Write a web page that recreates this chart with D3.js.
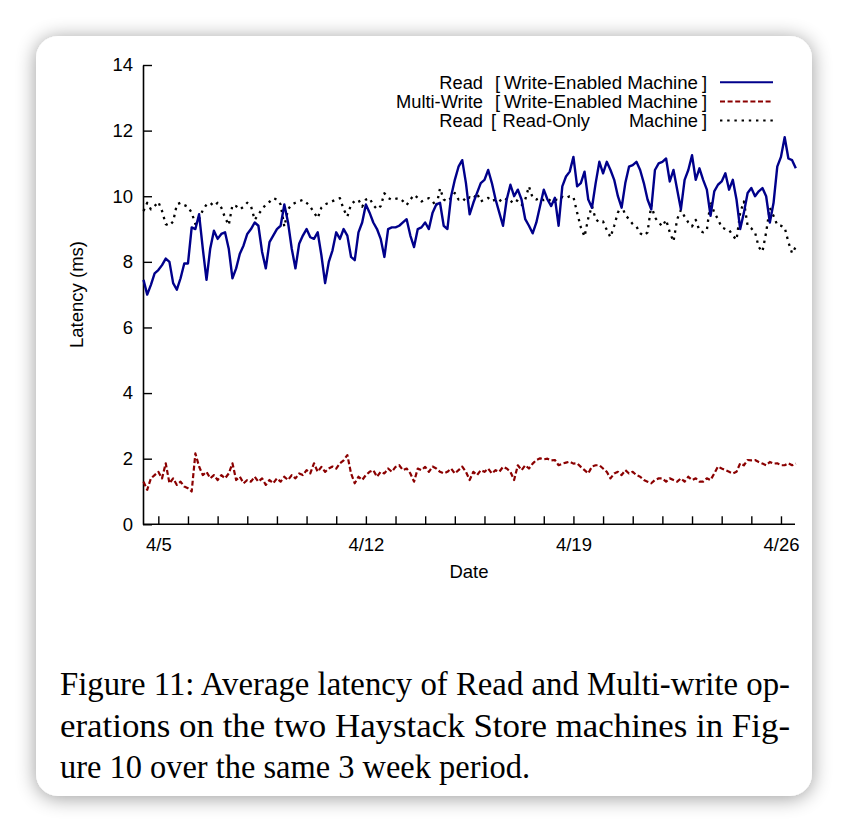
<!DOCTYPE html>
<html>
<head>
<meta charset="utf-8">
<script src="https://cdn.jsdelivr.net/npm/d3@7"></script>
<style>
  html, body { margin: 0; padding: 0; background: #ffffff; }
  svg { display: block; }
</style>
</head>
<body>
<svg id="chart" width="848" height="832"></svg>
<script>
// ---- Data (samples every 3 hours starting 4/4 12:00) ----
const sampleStartISO = "2010-04-04T12:00:00";
const sampleStepHours = 3;

const readWriteEnabled = [
  7.45, 7.0, 7.3, 7.65, 7.75, 7.9, 8.1, 8.0, 7.35, 7.15,
  7.5, 7.95, 7.95, 9.05, 9.0, 9.45, 8.4, 7.45, 8.4, 8.95,
  8.7, 8.85, 8.9, 8.4, 7.5, 7.8, 8.25, 8.5, 8.85, 9.0,
  9.2, 9.1, 8.3, 7.8, 8.6, 8.8, 9.0, 9.1, 9.75, 9.2,
  8.4, 7.8, 8.55, 8.8, 9.0, 8.75, 8.7, 8.9, 8.2, 7.35,
  8.0, 8.35, 8.9, 8.7, 9.0, 8.8, 8.15, 8.05, 8.9, 9.2,
  9.75, 9.5, 9.2, 9.0, 8.7, 8.15, 9.0, 9.05, 9.05, 9.1,
  9.2, 9.3, 8.8, 8.45, 9.0, 9.05, 9.2, 9.0, 9.5, 9.75,
  9.8, 9.1, 9.0, 10.0, 10.5, 10.9, 11.1, 10.4, 9.45, 9.8,
  10.1, 10.4, 10.5, 10.8, 10.4, 9.9, 9.5, 9.1, 9.9, 10.35,
  10.0, 10.2, 9.9, 9.3, 9.1, 8.87, 9.2, 9.7, 10.2, 9.9,
  9.7, 9.95, 9.1, 10.3, 10.6, 10.75, 11.2, 10.3, 10.4, 10.75,
  9.9, 9.65, 10.4, 11.05, 10.7, 11.05, 10.8, 10.5, 10.0, 9.65,
  10.4, 10.9, 10.95, 11.05, 10.8, 10.4, 9.9, 9.6, 10.8, 11.0,
  11.05, 11.15, 10.45, 10.8, 10.2, 9.6, 10.5, 10.8, 11.25, 10.5,
  10.85, 10.5, 10.2, 9.4, 10.15, 10.35, 10.45, 10.7, 10.2, 10.5,
  9.9, 9.0, 9.5, 10.1, 10.25, 10.0, 10.15, 10.25, 10.0, 9.2,
  9.8, 10.9, 11.2, 11.8, 11.15, 11.1, 10.85
];

const multiWriteWriteEnabled = [
  1.3, 1.05, 1.4, 1.5, 1.6, 1.4, 1.86, 1.25, 1.4, 1.2,
  1.3, 1.15, 1.1, 1.0, 2.16, 1.76, 1.5, 1.6, 1.4, 1.5,
  1.35, 1.5, 1.4, 1.55, 1.86, 1.35, 1.45, 1.25, 1.35, 1.3,
  1.45, 1.3, 1.4, 1.2, 1.35, 1.25, 1.4, 1.3, 1.45, 1.35,
  1.5, 1.4, 1.55, 1.5, 1.65, 1.55, 1.86, 1.6, 1.75, 1.6,
  1.7, 1.76, 1.7, 1.86, 1.95, 2.11, 1.55, 1.25, 1.45, 1.35,
  1.5, 1.6, 1.65, 1.45, 1.6, 1.55, 1.7, 1.6, 1.75, 1.8,
  1.65, 1.7, 1.55, 1.3, 1.7, 1.65, 1.75, 1.6, 1.76, 1.7,
  1.6, 1.55, 1.6, 1.7, 1.55, 1.65, 1.76, 1.6, 1.35, 1.6,
  1.5, 1.65, 1.6, 1.7, 1.55, 1.65, 1.6, 1.75, 1.7, 1.6,
  1.35, 1.8, 1.65, 1.8, 1.7, 1.85, 1.96, 2.01, 1.98, 2.0,
  1.95, 1.96, 1.8, 1.85, 1.88, 1.91, 1.85, 1.86, 1.75, 1.65,
  1.55, 1.76, 1.8, 1.8, 1.7, 1.6, 1.4, 1.55, 1.6, 1.5,
  1.65, 1.55, 1.6, 1.5, 1.45, 1.35, 1.3, 1.25, 1.35, 1.4,
  1.4, 1.3, 1.4, 1.35, 1.3, 1.4, 1.3, 1.45, 1.35, 1.4,
  1.3, 1.3, 1.4, 1.35, 1.55, 1.76, 1.7, 1.65, 1.6, 1.55,
  1.6, 1.86, 1.8, 1.96, 1.95, 1.96, 1.9, 1.85, 1.8, 1.9,
  1.85, 1.86, 1.8, 1.8, 1.86, 1.8, 1.85
];

const readReadOnly = [
  9.55, 9.8, 9.6, 9.7, 9.83, 9.55, 9.15, 9.1, 9.23, 9.75,
  9.8, 9.73, 9.68, 9.5, 9.15, 9.3, 9.58, 9.75, 9.8, 9.7,
  9.8, 9.65, 9.35, 9.12, 9.73, 9.7, 9.6, 9.68, 9.8, 9.7,
  9.28, 9.45, 9.6, 9.75, 9.83, 9.94, 9.9, 9.75, 9.07, 9.6,
  9.75, 9.8, 9.85, 9.89, 9.8, 9.68, 9.5, 9.33, 9.65, 9.75,
  9.8, 9.85, 9.9, 9.94, 9.6, 9.38, 9.75, 9.85, 9.89, 9.68,
  9.9, 9.94, 9.73, 9.6, 9.7, 10.09, 9.95, 9.89, 9.92, 9.94,
  9.85, 9.73, 9.9, 10.04, 9.95, 9.84, 9.9, 9.94, 9.85, 9.68,
  10.24, 9.9, 9.84, 9.95, 10.1, 9.9, 9.95, 9.85, 9.97, 9.92,
  10.09, 9.84, 9.9, 9.95, 9.85, 9.9, 9.84, 9.95, 9.9, 9.8,
  9.92, 9.85, 9.73, 9.9, 10.3, 9.95, 9.9, 9.95, 9.88, 9.92,
  9.85, 9.9, 9.88, 9.98, 9.94, 10.0, 9.98, 9.5, 9.05, 8.77,
  9.33, 9.7, 9.3, 9.2, 9.23, 8.97, 8.75, 9.1, 9.5, 9.73,
  9.43, 9.3, 9.15, 9.08, 8.87, 8.8, 8.9, 9.73, 9.35, 9.2,
  9.08, 9.28, 8.9, 8.62, 9.3, 9.58, 9.38, 9.2, 9.08, 9.28,
  8.95, 8.9, 8.97, 9.84, 9.5, 9.3, 9.05, 9.0, 8.97, 8.8,
  8.67, 9.5, 9.84, 9.1, 9.02, 8.9, 8.45, 8.31, 8.9, 9.65,
  9.4, 9.12, 9.1, 9.05, 8.6, 8.26, 8.46
];

const yTickValues = [0, 2, 4, 6, 8, 10, 12, 14];
const xLabelDates = ["2010-04-05", "2010-04-12", "2010-04-19", "2010-04-26"];
const xTickLabels = ["4/5", "4/12", "4/19", "4/26"];

const legendLabels = ["Read", "Multi-Write", "Read"];
const legendMachines = ["Write-Enabled Machine", "Write-Enabled Machine", "Read-Only"];
const legendColors = ["#00008b", "#8b0000", "#000000"];
const legendDash = [null, "5,2.6", "2.4,4.8"];

const captionLines = [
  "Figure 11: Average latency of Read and Multi-write op-",
  "erations on the two Haystack Store machines in Fig-",
  "ure 10 over the same 3 week period."
];

// ---- Drawing ----
const svg = d3.select("#chart");
const defs = svg.append("defs");
const f = defs.append("filter").attr("id", "shadow")
  .attr("x", "-10%").attr("y", "-10%").attr("width", "120%").attr("height", "120%");
f.append("feGaussianBlur").attr("in", "SourceAlpha").attr("stdDeviation", 10).attr("result", "b");
f.append("feOffset").attr("in", "b").attr("dx", 0).attr("dy", 2).attr("result", "o");
f.append("feComponentTransfer").attr("in", "o").attr("result", "s")
  .append("feFuncA").attr("type", "linear").attr("slope", 0.4);
const m = f.append("feMerge");
m.append("feMergeNode").attr("in", "s");
m.append("feMergeNode").attr("in", "SourceGraphic");

svg.append("rect").attr("x", 36).attr("y", 36).attr("width", 776).attr("height", 760)
  .attr("rx", 22).attr("ry", 22).attr("fill", "#ffffff").attr("filter", "url(#shadow)");

const start = new Date(sampleStartISO);
const times = readWriteEnabled.map((_, i) => new Date(start.getTime() + i * sampleStepHours * 3600e3));

const x = d3.scaleTime()
  .domain([new Date("2010-04-04T12:00:00"), new Date("2010-04-26T12:00:00")])
  .range([143.5, 795.8]);
const y = d3.scaleLinear().domain([0, 14]).range([524.3, 65]);

const sansFont = "'Liberation Sans', Arial, Helvetica, sans-serif";

// Axes
const yAxis = d3.axisLeft(y).tickValues(yTickValues).tickSizeInner(-9).tickSizeOuter(0).tickPadding(10);
const gy = svg.append("g").attr("transform", "translate(143,0)").call(yAxis);
const xAxis = d3.axisBottom(x)
  .ticks(d3.timeDay.every(1))
  .tickSizeInner(-8).tickSizeOuter(0).tickPadding(14)
  .tickFormat(d => {
    const idx = xLabelDates.findIndex(s => +new Date(s + "T00:00:00") === +d);
    return idx >= 0 ? xTickLabels[idx] : "";
  });
const gx = svg.append("g").attr("transform", "translate(0,524.3)").call(xAxis);

[gx, gy].forEach(g => {
  g.select(".domain").attr("stroke", "#000").attr("stroke-width", 1.6);
  g.selectAll(".tick line").attr("stroke", "#000").attr("stroke-width", 1.4);
  g.selectAll("text").attr("font-family", sansFont).attr("font-size", 18.5).attr("fill", "#000");
});
gx.select(".domain").attr("d", "M143,0H795");

svg.append("text").attr("x", 469).attr("y", 578).attr("text-anchor", "middle")
  .attr("font-family", sansFont).attr("font-size", 18.5).text("Date");
svg.append("text").attr("transform", "translate(83,294.5) rotate(-90)").attr("text-anchor", "middle")
  .attr("font-family", sansFont).attr("font-size", 18.5).text("Latency (ms)");

// Lines
const line = d3.line().x((d, i) => x(times[i])).y(d => y(d));
const seriesList = [
  { data: readReadOnly, color: legendColors[2], dash: legendDash[2], w: 2.3 },
  { data: multiWriteWriteEnabled, color: legendColors[1], dash: legendDash[1], w: 2.2 },
  { data: readWriteEnabled, color: legendColors[0], dash: legendDash[0], w: 2.4 }
];
seriesList.forEach(s => {
  svg.append("path").datum(s.data).attr("d", line)
    .attr("fill", "none").attr("stroke", s.color).attr("stroke-width", s.w)
    .attr("stroke-linejoin", "round")
    .attr("stroke-dasharray", s.dash);
});

// Legend
const rowY = [82.3, 101.5, 120.5];
legendLabels.forEach((lab, i) => {
  const cy = rowY[i];
  const by = cy + 6.6;
  const g = svg.append("g").attr("font-family", sansFont).attr("font-size", 18.3);
  g.append("text").attr("x", 483).attr("y", by).attr("text-anchor", "end").text(lab);
  g.append("text").attr("x", i === 2 ? 491 : 495).attr("y", by).text("[");
  if (i < 2) {
    g.append("text").attr("x", 504).attr("y", by).text(legendMachines[i])
      .attr("textLength", 194).attr("lengthAdjust", "spacingAndGlyphs");
  } else {
    g.append("text").attr("x", 502.5).attr("y", by).text(legendMachines[i]);
    g.append("text").attr("x", 698).attr("y", by).attr("text-anchor", "end").text("Machine");
  }
  g.append("text").attr("x", 702).attr("y", by).text("]");
  svg.append("line").attr("x1", 720).attr("x2", 773).attr("y1", cy).attr("y2", cy)
    .attr("stroke", legendColors[i]).attr("stroke-width", 2)
    .attr("stroke-dasharray", legendDash[i]);
});

// Caption
const capY = [695, 737, 778];
captionLines.forEach((t, i) => {
  const txt = svg.append("text").attr("x", 60).attr("y", capY[i])
    .attr("font-family", "'Liberation Serif', 'Times New Roman', Times, serif")
    .attr("font-size", 33).attr("fill", "#000").text(t);
  if (i < 2) txt.attr("textLength", 730).attr("lengthAdjust", "spacingAndGlyphs");
  else txt.attr("textLength", 470).attr("lengthAdjust", "spacingAndGlyphs");
});
</script>
</body>
</html>
